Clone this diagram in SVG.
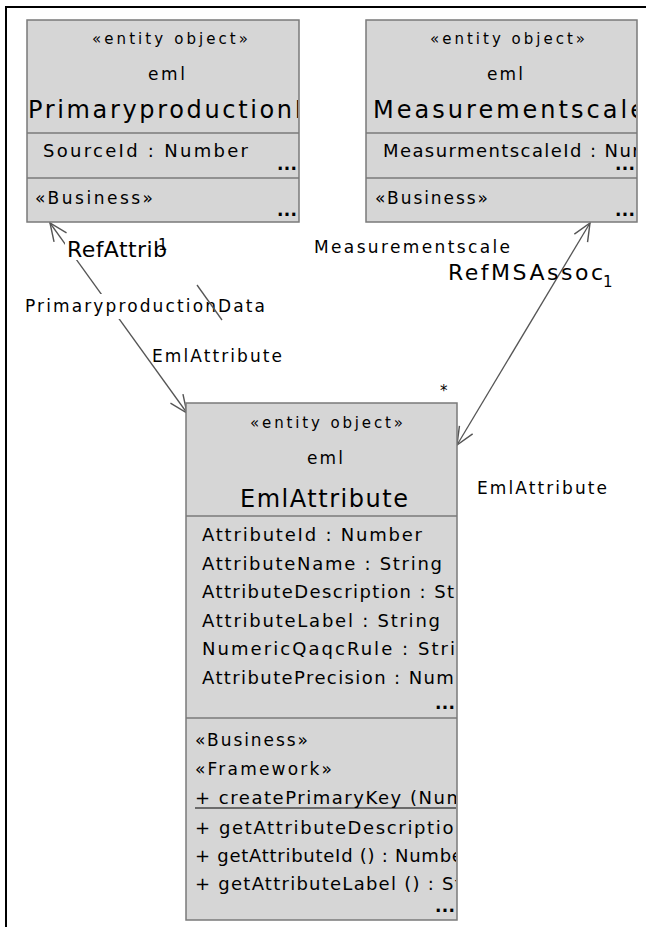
<svg xmlns="http://www.w3.org/2000/svg" width="646" height="927" viewBox="0 0 646 927">
<style>
text{font-family:"DejaVu Sans","Liberation Sans",Arial,sans-serif;fill:#000}
.box{fill:#d6d6d6;stroke:#7a7a7a;stroke-width:1.5}
.div{stroke:#7a7a7a;stroke-width:1.5}
.st{font-size:15px}
.pk{font-size:17px}
.nm{font-size:24px}
.at{font-size:18px}
.dots{font-size:17px;font-weight:bold}
.lbl{font-size:17px}
.rl{font-size:22px}
.ln{stroke:#555;stroke-width:1.3;fill:none}
.bg{fill:#fff}
.frame{stroke:#000;stroke-width:2}
</style>
<defs>
<marker id="arr" markerUnits="userSpaceOnUse" markerWidth="22" markerHeight="22" viewBox="0 0 20 20" refX="18" refY="10" orient="auto-start-reverse"><path d="M2,3 L18,10 L2,17" fill="none" stroke="#555" stroke-width="1.3"/></marker>
<clipPath id="c1"><rect x="28" y="21" width="270" height="200"/></clipPath>
<clipPath id="c2"><rect x="367" y="21" width="269" height="200"/></clipPath>
<clipPath id="c3"><rect x="187" y="404" width="269" height="515"/></clipPath>
</defs>
<rect width="646" height="927" fill="#fff"/>
<line class="frame" x1="5" y1="7" x2="646" y2="7"/>
<line class="frame" x1="6" y1="6" x2="6" y2="927"/>

<g id="connectors">
<line class="ln" x1="50" y1="223" x2="187" y2="413" marker-start="url(#arr)" marker-end="url(#arr)"/>
<line class="ln" x1="590" y1="223" x2="457" y2="445" marker-start="url(#arr)" marker-end="url(#arr)"/>
<rect class="bg" x="65" y="237" width="104" height="23"/>
<rect class="bg" x="22" y="294" width="244" height="25"/>
<text class="rl" x="67" y="257" textLength="100" lengthAdjust="spacing">RefAttrib</text>
<text class="st" x="158" y="250">1</text>
<text class="lbl" x="25" y="312" textLength="240" lengthAdjust="spacing">PrimaryproductionData</text>
<line class="ln" x1="197" y1="285" x2="222" y2="320"/>
<text class="lbl" x="152" y="362" textLength="130" lengthAdjust="spacing">EmlAttribute</text>
<text class="lbl" x="314" y="253" textLength="196" lengthAdjust="spacing">Measurementscale</text>
<text class="rl" x="448" y="280" textLength="155" lengthAdjust="spacing">RefMSAssoc</text>
<text class="st" x="603" y="287">1</text>
<text class="st" x="440" y="396">*</text>
<text class="lbl" x="477" y="494" textLength="130" lengthAdjust="spacing">EmlAttribute</text>
</g>

<g id="PrimaryproductionData">
<rect class="box" x="27" y="20" width="272" height="202"/>
<line class="div" x1="27" y1="133" x2="299" y2="133"/>
<line class="div" x1="27" y1="178" x2="299" y2="178"/>
<g clip-path="url(#c1)">
<text class="st" x="92" y="44" textLength="156" lengthAdjust="spacing">«entity object»</text>
<text class="pk" x="148" y="80" textLength="37" lengthAdjust="spacing">eml</text>
<text class="nm" x="28" y="118" textLength="332" lengthAdjust="spacing">PrimaryproductionData</text>
<text class="at" x="43" y="157" textLength="205" lengthAdjust="spacing">SourceId  : Number</text>
<text class="dots" x="277" y="170" textLength="20" lengthAdjust="spacing">...</text>
<text class="pk" x="35" y="204" textLength="118" lengthAdjust="spacing">«Business»</text>
<text class="dots" x="277" y="216" textLength="20" lengthAdjust="spacing">...</text>
</g>
</g>

<g id="Measurementscale">
<rect class="box" x="366" y="20" width="271" height="202"/>
<line class="div" x1="366" y1="133" x2="637" y2="133"/>
<line class="div" x1="366" y1="178" x2="637" y2="178"/>
<g clip-path="url(#c2)">
<text class="st" x="430" y="44" textLength="155" lengthAdjust="spacing">«entity object»</text>
<text class="pk" x="487" y="80" textLength="36" lengthAdjust="spacing">eml</text>
<text class="nm" x="373" y="118" textLength="272" lengthAdjust="spacing">Measurementscale</text>
<text class="at" x="383" y="157" textLength="301" lengthAdjust="spacing">MeasurmentscaleId  : Number</text>
<text class="dots" x="615" y="170" textLength="20" lengthAdjust="spacing">...</text>
<text class="pk" x="375" y="204" textLength="113" lengthAdjust="spacing">«Business»</text>
<text class="dots" x="615" y="216" textLength="20" lengthAdjust="spacing">...</text>
</g>
</g>

<g id="EmlAttribute">
<rect class="box" x="186" y="403" width="271" height="517"/>
<line class="div" x1="186" y1="516" x2="457" y2="516"/>
<line class="div" x1="186" y1="718" x2="457" y2="718"/>
<g clip-path="url(#c3)">
<text class="st" x="250" y="428" textLength="153" lengthAdjust="spacing">«entity object»</text>
<text class="pk" x="307" y="464" textLength="36" lengthAdjust="spacing">eml</text>
<text class="nm" x="240" y="507" textLength="168" lengthAdjust="spacing">EmlAttribute</text>
<text class="at" x="202" y="541" textLength="220" lengthAdjust="spacing">AttributeId  : Number</text>
<text class="at" x="202" y="570" textLength="240" lengthAdjust="spacing">AttributeName  : String</text>
<text class="at" x="202" y="598" textLength="293" lengthAdjust="spacing">AttributeDescription  : String</text>
<text class="at" x="202" y="627" textLength="238" lengthAdjust="spacing">AttributeLabel  : String</text>
<text class="at" x="202" y="655" textLength="280" lengthAdjust="spacing">NumericQaqcRule  : String</text>
<text class="at" x="202" y="684" textLength="286" lengthAdjust="spacing">AttributePrecision  : Number</text>
<text class="dots" x="435" y="709" textLength="20" lengthAdjust="spacing">...</text>
<text class="pk" x="195" y="746" textLength="113" lengthAdjust="spacing">«Business»</text>
<text class="pk" x="195" y="775" textLength="137" lengthAdjust="spacing">«Framework»</text>
<text class="at" x="195" y="804" textLength="312" lengthAdjust="spacing">+ createPrimaryKey (Number)</text>
<line x1="195" y1="808" x2="457" y2="808" stroke="#000" stroke-width="1.2"/>
<text class="at" x="195" y="834" textLength="382" lengthAdjust="spacing">+ getAttributeDescription () : String</text>
<text class="at" x="195" y="862" textLength="276" lengthAdjust="spacing">+ getAttributeId () : Number</text>
<text class="at" x="195" y="890" textLength="307" lengthAdjust="spacing">+ getAttributeLabel () : String</text>
<text class="dots" x="435" y="912" textLength="20" lengthAdjust="spacing">...</text>
</g>
</g>
</svg>
